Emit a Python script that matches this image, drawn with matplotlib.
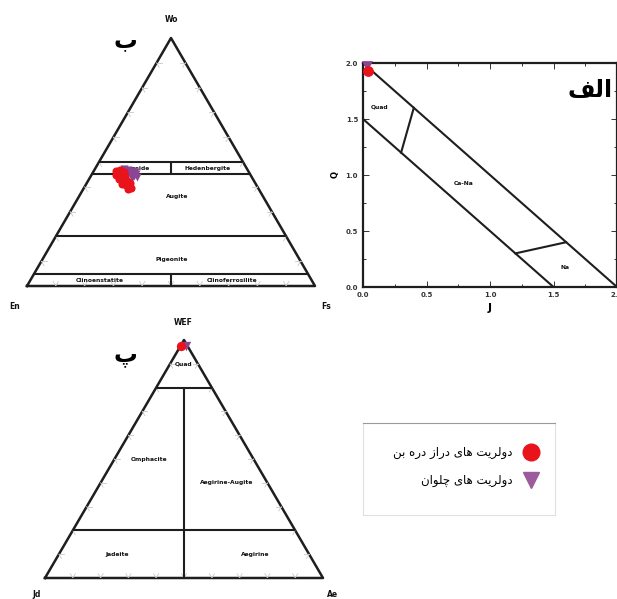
import numpy as np
import matplotlib.pyplot as plt
from matplotlib.lines import Line2D

# --- data ---
# pyroxene quadrilateral (Wo, En, Fs in %)
deraz_wo = [46.4, 46.8, 46.0, 44.8, 44.4, 44.0, 43.1, 42.7, 42.3, 41.1, 40.7, 40.3, 39.1, 39.5, 41.9, 41.5]
deraz_en = [45.9, 44.3, 43.3, 46.7, 45.2, 44.0, 46.5, 45.3, 44.1, 46.5, 45.3, 44.5, 45.4, 44.2, 45.4, 43.5]
deraz_fs = [7.7, 8.9, 10.7, 8.5, 10.4, 12.0, 10.4, 12.0, 13.6, 12.4, 14.0, 15.2, 15.5, 16.3, 12.7, 15.0]

chelvan_wo = [47.2, 46.8, 46.4, 46.0, 45.2, 44.4, 44.0, 43.5, 45.2]
chelvan_en = [42.7, 41.5, 40.3, 39.5, 41.6, 40.6, 39.8, 41.8, 39.6]
chelvan_fs = [10.1, 11.7, 13.3, 14.5, 13.2, 15.0, 16.2, 14.7, 15.2]

# Q-J diagram
deraz_J, deraz_Q = [0.04], [1.93]
chelvan_J, chelvan_Q = [0.03], [1.97]

# WEF - Jd - Ae (%)
deraz_wef, deraz_jd, deraz_ae = [97.5], [2.3], [0.2]
chelvan_wef, chelvan_jd, chelvan_ae = [97.5], [0.5], [2.0]

RED = '#e8131b'
PURPLE = '#8a4595'
LINE = '#1e1e1e'

# minimal arabic shaping (matplotlib has no shaping / bidi)
FORMS = {
    'ا': ('\uFE8D', '\uFE8E', None, None),
    'ب': ('\uFE8F', '\uFE90', '\uFE91', '\uFE92'),
    'پ': ('\uFB56', '\uFB57', '\uFB58', '\uFB59'),
    'ت': ('\uFE95', '\uFE96', '\uFE97', '\uFE98'),
    'چ': ('\uFB7A', '\uFB7B', '\uFB7C', '\uFB7D'),
    'د': ('\uFEA9', '\uFEAA', None, None),
    'ر': ('\uFEAD', '\uFEAE', None, None),
    'ز': ('\uFEAF', '\uFEB0', None, None),
    'ف': ('\uFED1', '\uFED2', '\uFED3', '\uFED4'),
    'ل': ('\uFEDD', '\uFEDE', '\uFEDF', '\uFEE0'),
    'ن': ('\uFEE5', '\uFEE6', '\uFEE7', '\uFEE8'),
    'ه': ('\uFEE9', '\uFEEA', '\uFEEB', '\uFEEC'),
    'و': ('\uFEED', '\uFEEE', None, None),
    'ی': ('\uFBFC', '\uFBFD', '\uFBFE', '\uFBFF'),
}


def shape(s):
    out = []
    for i, c in enumerate(s):
        f = FORMS.get(c)
        if f is None:
            out.append(c)
            continue
        prev = s[i - 1] if i > 0 else ''
        nxt = s[i + 1] if i + 1 < len(s) else ''
        jp = prev in FORMS and FORMS[prev][2] is not None
        jn = f[2] is not None and nxt in FORMS
        if jp and jn:
            out.append(f[3])
        elif jp:
            out.append(f[1])
        elif jn:
            out.append(f[2])
        else:
            out.append(f[0])
    return ''.join(reversed(out))


W, H = 617, 599
fig = plt.figure(figsize=(W / 100, H / 100), dpi=100)
fig.patch.set_facecolor('white')


def ax_at(left, top, right, bottom):
    return fig.add_axes([left / W, 1 - bottom / H, (right - left) / W, (bottom - top) / H])


S3 = np.sqrt(3) / 2


def tern(top, left, right):
    top, left, right = np.asarray(top, float), np.asarray(left, float), np.asarray(right, float)
    tot = top + left + right
    return (right + top / 2) / tot, top / tot * S3


def tline(ax, a, b, lw=1.5):
    x, y = tern([a[0], b[0]], [a[1], b[1]], [a[2], b[2]])
    ax.plot(x, y, color=LINE, lw=lw, solid_capstyle='round', clip_on=False)


def tri_frame(ax):
    ax.plot([0, 1, 0.5, 0], [0, 0, S3, 0], color=LINE, lw=1.8, clip_on=False)
    # faint ternary ticks
    L = 0.018
    for f in np.arange(0.1, 1.0, 0.1):
        for (px, py), dirs in [((f, 0), [(0.5, S3), (-0.5, S3)]),
                               ((f / 2, f * S3), [(1, 0), (0.5, -S3)]),
                               ((1 - f / 2, f * S3), [(-1, 0), (-0.5, -S3)])]:
            for dx, dy in dirs:
                ax.plot([px, px + L * dx], [py, py + L * dy], color='#c8c8c8', lw=0.6)
    ax.set_xlim(0, 1)
    ax.set_ylim(0, S3)
    ax.axis('off')


lab = dict(fontsize=4.3, fontweight='bold', ha='center', va='center', color='#111111')
cor = dict(fontsize=5.5, fontweight='bold', ha='center', va='center', color='#111111')
big = dict(fontsize=17, fontweight='bold', ha='center', va='center', color='black', family='DejaVu Sans')

# ---- pyroxene quadrilateral (ب) ----
ax1 = ax_at(27, 38, 315, 286)
tri_frame(ax1)
tline(ax1, (50, 50, 0), (50, 0, 50))
tline(ax1, (45, 55, 0), (45, 0, 55))
tline(ax1, (20, 80, 0), (20, 0, 80))
tline(ax1, (5, 95, 0), (5, 0, 95))
tline(ax1, (50, 25, 25), (45, 27.5, 27.5))
tline(ax1, (5, 47.5, 47.5), (0, 50, 50))
ax1.text(0.375, 0.409, 'Diopside', **lab)
ax1.text(0.628, 0.409, 'Hedenbergite', **lab)
ax1.text(0.521, 0.311, 'Augite', **lab)
ax1.text(0.503, 0.091, 'Pigeonite', **lab)
ax1.text(0.253, 0.019, 'Clinoenstatite', **lab)
ax1.text(0.712, 0.019, 'Clinoferrosilite', **lab)
ax1.text(0.503, 0.929, 'Wo', **cor)
ax1.text(-0.042, -0.070, 'En', **cor)
ax1.text(1.038, -0.070, 'Fs', **cor)
ax1.text(0.340, 0.859, shape('ب'), **big)
x, y = tern(chelvan_wo, chelvan_en, chelvan_fs)
ax1.scatter(x, y, marker='v', s=34, color=PURPLE, lw=0, zorder=5, clip_on=False)
x, y = tern(deraz_wo, deraz_en, deraz_fs)
ax1.scatter(x, y, marker='o', s=34, color=RED, lw=0, zorder=6, clip_on=False)

# ---- Q-J diagram (الف) ----
ax2 = ax_at(363, 63, 617, 287)
ax2.set_xlim(0, 2)
ax2.set_ylim(0, 2)
ax2.plot([0, 2], [2, 0], color=LINE, lw=1.5)
ax2.plot([0, 1.5], [1.5, 0], color=LINE, lw=1.5)
ax2.plot([0.3, 0.4], [1.2, 1.6], color=LINE, lw=1.5)
ax2.plot([1.2, 1.6], [0.3, 0.4], color=LINE, lw=1.5)
ax2.text(0.134, 1.61, 'Quad', **lab)
ax2.text(0.79, 0.92, 'Ca-Na', **lab)
ax2.text(1.59, 0.17, 'Na', **lab)
ax2.text(1.79, 1.76, shape('الف'), **big)
ax2.scatter(chelvan_J, chelvan_Q, marker='v', s=60, color=PURPLE, lw=0, zorder=5, clip_on=False)
ax2.scatter(deraz_J, deraz_Q, marker='o', s=60, color=RED, lw=0, zorder=6, clip_on=False)
ax2.set_xticks([0, 0.5, 1.0, 1.5, 2.0])
ax2.set_yticks([0, 0.5, 1.0, 1.5, 2.0])
ax2.set_xticks(np.arange(0, 2.01, 0.25), minor=True)
ax2.set_yticks(np.arange(0, 2.01, 0.25), minor=True)
ax2.tick_params(which='both', direction='in', top=True, right=True, labelsize=5, width=0.7, colors='#333333')
ax2.tick_params(which='major', length=4)
ax2.tick_params(which='minor', length=2.5)
for t in ax2.get_xticklabels() + ax2.get_yticklabels():
    t.set_fontweight('bold')
ax2.set_xlabel('J', fontsize=8, fontweight='bold', labelpad=4)
ax2.set_ylabel('Q', fontsize=6, fontweight='bold', labelpad=4)
for sp in ax2.spines.values():
    sp.set_linewidth(1.6)
    sp.set_color(LINE)

# ---- WEF - Jd - Ae (پ) ----
ax3 = ax_at(45, 340, 323, 578)
tri_frame(ax3)
tline(ax3, (80, 20, 0), (80, 0, 20))
tline(ax3, (20, 80, 0), (20, 0, 80))
tline(ax3, (80, 10, 10), (0, 50, 50))
ax3.text(0.5, 0.779, 'Quad', **lab)
ax3.text(0.374, 0.433, 'Omphacite', **lab)
ax3.text(0.655, 0.349, 'Aegirine-Augite', **lab)
ax3.text(0.259, 0.087, 'Jadeite', **lab)
ax3.text(0.755, 0.087, 'Aegirine', **lab)
ax3.text(0.496, 0.931, 'WEF', **cor)
ax3.text(-0.029, -0.060, 'Jd', **cor)
ax3.text(1.036, -0.060, 'Ae', **cor)
ax3.text(0.288, 0.811, shape('پ'), **big)
x, y = tern(chelvan_wef, chelvan_jd, chelvan_ae)
ax3.scatter(x, y, marker='v', s=45, color=PURPLE, lw=0, zorder=5, clip_on=False)
x, y = tern(deraz_wef, deraz_jd, deraz_ae)
ax3.scatter(x, y, marker='o', s=45, color=RED, lw=0, zorder=6, clip_on=False)

# ---- legend box ----
ax4 = ax_at(363, 423, 555, 515)
ax4.set_xticks([])
ax4.set_yticks([])
for sp in ax4.spines.values():
    sp.set_color('#e0e0e0')
    sp.set_linewidth(0.8)
ax4.spines['top'].set_color('#9a9a9a')
handles = [Line2D([], [], ls='', marker='o', ms=12, color=RED),
           Line2D([], [], ls='', marker='v', ms=12, color='#9c5b9c')]
labels = [shape('دولریت های دراز دره بن'), shape('دولریت های چلوان')]
ax4.legend(handles, labels, loc='center right', frameon=False, markerfirst=False,
           prop={'size': 8.5, 'family': 'DejaVu Sans'}, handletextpad=0.6,
           labelspacing=1.3, borderaxespad=0.6, bbox_to_anchor=(1, 0.525))

fig.savefig('out.png', dpi=100)
